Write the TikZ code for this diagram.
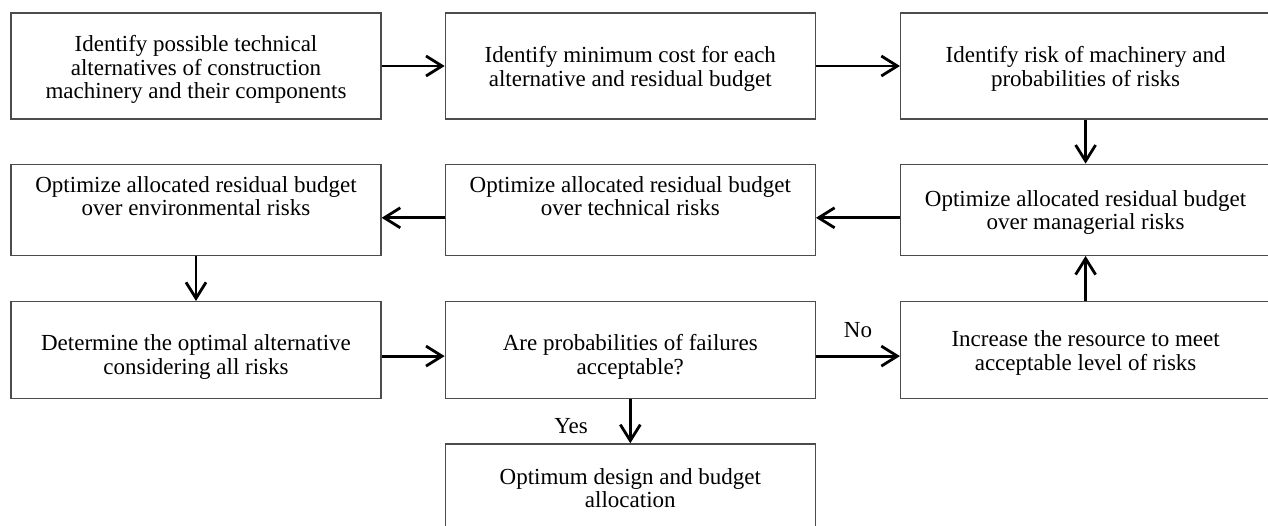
\documentclass[tikz,border=0pt]{standalone}
\usepackage{fontspec}
\setmainfont{Liberation Serif}
\usepackage{tikz}
\usetikzlibrary{positioning}
\usetikzlibrary{arrows.meta}
\tikzset{%
  mybox/.style={rectangle, draw=black!70, line width=1.3pt, minimum width=370pt,
    inner sep=0pt, align=center, font=\fontsize{23pt}{23.5pt}\selectfont,
    text height=40pt, text depth=0pt},
  mythree/.style={text height=65pt},
  mylift/.style={text depth=28.5pt},
  mysink/.style={text height=48.5pt},
  myarrow/.style={-{Straight Barb[length=16pt, width=20pt]}, line width=2.8pt},
  mylabel/.style={inner sep=0pt, font=\fontsize{23pt}{23.5pt}\selectfont}
}

\begin{document}
\begin{tikzpicture}
  \useasboundingbox (0,0) rectangle (1268pt,-525pt);
  \clip (0,0) rectangle (1268pt,-525pt);
  \node[mybox, mythree, minimum height=106pt] (A) at (196pt,-66pt) {Identify possible technical\\alternatives of construction\\machinery and their components};
  \node[mybox, minimum height=106pt, right=63pt of A] (B) {Identify minimum cost for each\\alternative and residual budget};
  \node[mybox, minimum height=106pt, right=84pt of B] (C) {Identify risk of machinery and\\probabilities of risks};
  \node[mybox, mylift, minimum height=91pt, below=44pt of A] (D) {Optimize allocated residual budget\\over environmental risks};
  \node[mybox, mylift, minimum height=91pt, below=44pt of B] (E) {Optimize allocated residual budget\\over technical risks};
  \node[mybox, minimum height=91pt, below=44pt of C] (F) {Optimize allocated residual budget\\over managerial risks};
  \node[mybox, mysink, minimum height=97pt, below=45pt of D] (G) {Determine the optimal alternative\\considering all risks};
  \node[mybox, mysink, minimum height=97pt, below=45pt of E] (H) {Are probabilities of failures\\acceptable?};
  \node[mybox, minimum height=97pt, below=45pt of F] (I) {Increase the resource to meet\\acceptable level of risks};
  \node[mybox, minimum height=88pt, below=44pt of H] (J) {Optimum design and budget\\allocation};
  \draw [myarrow] (A) -- (B);
  \draw [myarrow] (B) -- (C);
  \draw [myarrow] (C) -- (F);
  \draw [myarrow] ([yshift=-8pt]F.west) -- ([yshift=-8pt]E.east);
  \draw [myarrow] ([yshift=-8pt]E.west) -- ([yshift=-8pt]D.east);
  \draw [myarrow] (D) -- (G);
  \draw [myarrow] ([yshift=-6pt]G.east) -- ([yshift=-6pt]H.west);
  \draw [myarrow] ([yshift=-6pt]H.east) -- ([yshift=-6pt]I.west) node [midway, above=17pt, mylabel] (no) {No};
  \draw [myarrow] (I) -- (F);
  \draw [myarrow] (H) -- (J) node [pos=0.6, left=41pt, mylabel] (yes) {Yes};
\end{tikzpicture}
\end{document}
